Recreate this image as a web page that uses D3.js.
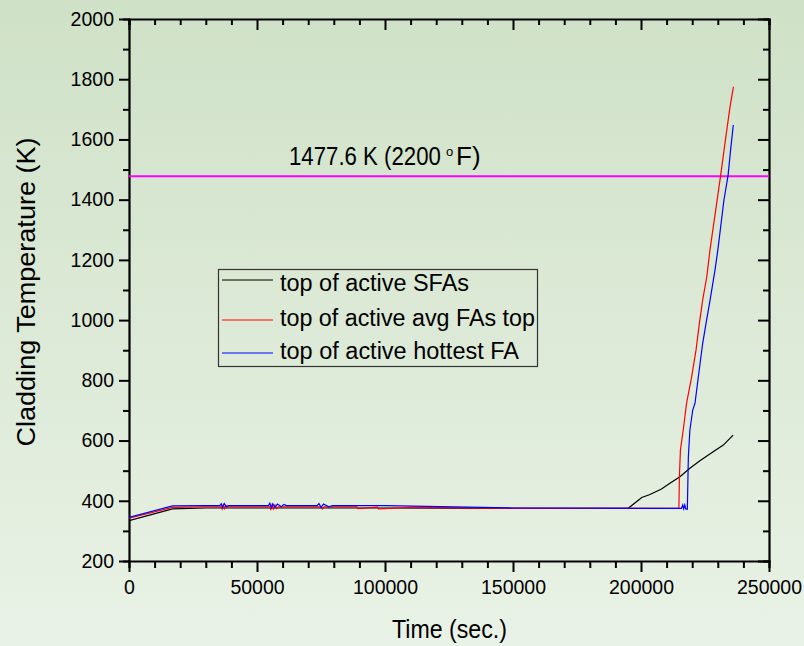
<!DOCTYPE html>
<html>
<head>
<meta charset="utf-8">
<script src="https://cdn.jsdelivr.net/npm/d3@7/dist/d3.min.js"></script>
<style>
html,body{margin:0;padding:0;}
body{width:804px;height:646px;overflow:hidden;}
text{font-family:"Liberation Sans",Arial,sans-serif;fill:#000;}
</style>
</head>
<body>
<svg id="chart" width="804" height="646"></svg>
<script>
// ---- data ----
const xTicks = [0, 50000, 100000, 150000, 200000, 250000];
const yTicks = [200, 400, 600, 800, 1000, 1200, 1400, 1600, 1800, 2000];
const limitValue = 1477.6;
const limitLabel = ["1477.6 K (2200", "o", "F)"];
const seriesNames = ["top of active SFAs", "top of active avg FAs top", "top of active hottest FA"];
const seriesColors = ["#000000", "#ff0000", "#0000ff"];

const sfaTime = [0, 17000, 30000, 60000, 100000, 150000, 195000, 200300, 203500, 208000, 211300, 215200, 219100, 223000, 228200, 232150, 236000];
const sfaTemp = [334, 373, 376, 376, 376, 375, 375, 411, 421, 439, 458, 480, 508, 533, 563, 585, 618];

const avgTime = [0, 17000, 30000, 36000, 36400, 36800, 37300, 37800, 38500, 55000, 55400, 55900, 56400, 57000, 57600, 58300, 75000, 75500, 76200, 89000, 89400, 97000, 97400, 110000, 150000, 214800, 215000, 215400, 216500, 217800, 219800, 221500, 222800, 224100, 225700, 226950, 231100, 233500, 234800, 236100];
const avgTemp = [342, 378, 380, 380, 373, 386, 374, 385, 380, 380, 372, 387, 373, 386, 374, 380, 380, 373, 380, 380, 374, 379, 373, 378, 375, 375, 480, 569, 635, 724, 812, 901, 989, 1067, 1144, 1233, 1480, 1631, 1709, 1775];

const hotTime = [0, 17000, 30000, 35500, 36000, 36500, 37200, 38000, 38800, 54500, 55000, 55600, 56200, 57000, 58000, 59500, 60500, 61500, 73500, 74200, 75000, 76000, 78000, 79500, 100000, 150000, 215800, 216300, 216700, 217100, 217500, 218100, 218500, 219100, 220200, 221100, 222400, 224100, 225400, 227000, 228900, 230100, 232400, 234000, 235000, 236050];
const hotTemp = [345, 383, 384, 384, 390, 378, 391, 379, 384, 384, 392, 377, 390, 378, 389, 380, 388, 384, 384, 391, 378, 389, 380, 384, 384, 376, 375, 386, 373, 386, 373, 372, 546, 635, 701, 724, 812, 923, 989, 1067, 1166, 1238, 1399, 1480, 1565, 1648];

// ---- layout ----
const svg = d3.select("#chart");
const L = 129, R = 769, T = 19, B = 561;

const defs = svg.append("defs");
const grad = defs.append("linearGradient").attr("id", "bg").attr("x1", 0).attr("y1", 0).attr("x2", 0).attr("y2", 1);
grad.append("stop").attr("offset", "0%").attr("stop-color", "#cfe1c7");
grad.append("stop").attr("offset", "100%").attr("stop-color", "#e9f2e6");
defs.append("clipPath").attr("id", "clip").append("rect").attr("x", L).attr("y", T).attr("width", R - L).attr("height", B - T);

svg.append("rect").attr("width", 804).attr("height", 646).attr("fill", "url(#bg)");

const x = d3.scaleLinear().domain([0, 250000]).range([L, R]);
const y = d3.scaleLinear().domain([200, 2000]).range([B, T]);

const xMinor = d3.range(0, 250001, 10000);
const yMinor = d3.range(200, 2001, 100);

// bottom axis (outward ticks)
const gB = svg.append("g").attr("transform", `translate(0,${B})`);
gB.call(d3.axisBottom(x).tickValues(xMinor).tickSize(7).tickFormat(""));
gB.call(g => g.selectAll(".tick line").filter(d => d % 50000 === 0).attr("y2", 11));
const gBl = svg.append("g").attr("transform", `translate(0,${B})`);
gBl.call(d3.axisBottom(x).tickValues(xTicks).tickSize(0).tickPadding(19).tickFormat(d3.format("d")));
gBl.select(".domain").remove();

// left axis (outward ticks)
const gL = svg.append("g").attr("transform", `translate(${L},0)`);
gL.call(d3.axisLeft(y).tickValues(yMinor).tickSize(6).tickFormat(""));
gL.call(g => g.selectAll(".tick line").filter(d => d % 200 === 0).attr("x2", -10));
const gLl = svg.append("g").attr("transform", `translate(${L},0)`);
gLl.call(d3.axisLeft(y).tickValues(yTicks).tickSize(0).tickPadding(15).tickFormat(d3.format("d")));
gLl.select(".domain").remove();

// top axis (inward ticks)
const gT = svg.append("g").attr("transform", `translate(0,${T})`);
gT.call(d3.axisBottom(x).tickValues(xMinor).tickSize(6).tickFormat(""));
gT.call(g => g.selectAll(".tick line").filter(d => d % 50000 === 0).attr("y2", 11));

// right axis (inward ticks)
const gR = svg.append("g").attr("transform", `translate(${R},0)`);
gR.call(d3.axisLeft(y).tickValues(yMinor).tickSize(6).tickFormat(""));
gR.call(g => g.selectAll(".tick line").filter(d => d % 200 === 0).attr("x2", -11));

svg.selectAll(".domain").attr("stroke", "#000").attr("stroke-width", 2.2);
svg.selectAll(".tick line").attr("stroke", "#000").attr("stroke-width", 2);
svg.selectAll(".tick text").attr("font-size", 19.5).attr("font-family", "Liberation Sans, Arial, sans-serif").attr("fill", "#000");

// limit line
svg.append("line").attr("x1", L).attr("x2", R).attr("y1", y(limitValue)).attr("y2", y(limitValue))
  .attr("stroke", "#ff00ff").attr("stroke-width", 2);
svg.append("text").attr("transform", "translate(289,165) scale(0.855,1)").attr("font-size", 26).text(limitLabel[0]);
svg.append("text").attr("x", 446).attr("y", 156).attr("font-size", 13).text(limitLabel[1]);
svg.append("text").attr("x", 456).attr("y", 165).attr("font-size", 26).text(limitLabel[2]);

// series
const line = d3.line().x(d => x(d[0])).y(d => y(d[1]));
const plot = svg.append("g").attr("clip-path", "url(#clip)");
const series = [
  d3.zip(sfaTime, sfaTemp),
  d3.zip(avgTime, avgTemp),
  d3.zip(hotTime, hotTemp)
];
series.forEach((s, i) => {
  plot.append("path").datum(s).attr("d", line).attr("fill", "none")
    .attr("stroke", seriesColors[i]).attr("stroke-width", 1.2);
});

// legend
const lg = svg.append("g");
lg.append("rect").attr("x", 218.5).attr("y", 269.5).attr("width", 319).attr("height", 97)
  .attr("fill", "none").attr("stroke", "#333").attr("stroke-width", 1.2);
const lineYs = [280, 320, 353];
const textYs = [291, 326, 359];
const textW = [189, 255, 239];
seriesNames.forEach((n, i) => {
  lg.append("line").attr("x1", 222).attr("x2", 273).attr("y1", lineYs[i]).attr("y2", lineYs[i])
    .attr("stroke", seriesColors[i]).attr("stroke-width", 1.2);
  lg.append("text").attr("x", 280).attr("y", textYs[i]).attr("font-size", 23)
    .attr("textLength", textW[i]).attr("lengthAdjust", "spacingAndGlyphs").text(n);
});

// axis titles
svg.append("text").attr("x", 449.5).attr("y", 638).attr("text-anchor", "middle").attr("font-size", 26)
  .attr("textLength", 115).attr("lengthAdjust", "spacingAndGlyphs").text("Time (sec.)");
svg.append("text").attr("transform", "translate(35,292) rotate(-90)").attr("text-anchor", "middle")
  .attr("font-size", 26).attr("textLength", 309).attr("lengthAdjust", "spacingAndGlyphs")
  .text("Cladding Temperature (K)");
</script>
</body>
</html>
